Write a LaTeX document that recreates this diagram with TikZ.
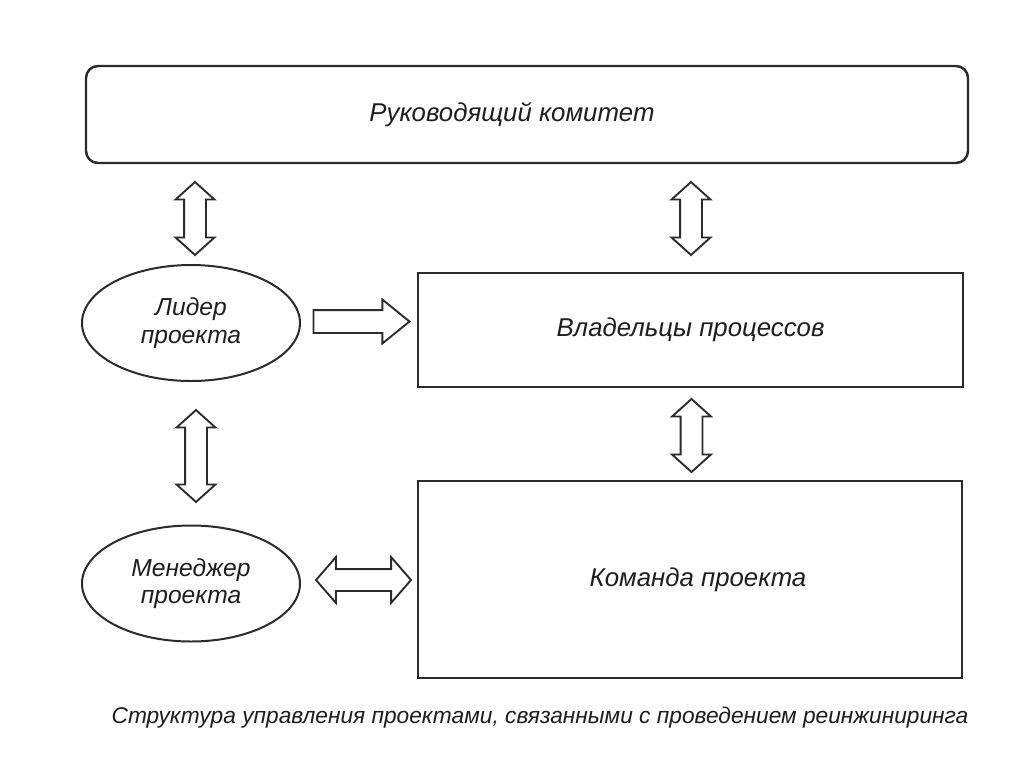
\documentclass[tikz,border=0pt]{standalone}
\usepackage{fontspec}
\setmainfont{Liberation Sans}
\usetikzlibrary{shapes.geometric,shapes.arrows}
\newlength\pu
\setlength\pu{0.3mm}
\definecolor{ink}{HTML}{2B2B2B}
\definecolor{txt}{HTML}{1E1E1E}
\tikzset{
  box/.style={draw=ink, line width=2.1pt, fill=white, inner sep=0pt,
    text=txt, font=\fontsize{22pt}{26pt}\selectfont\itshape},
  oval/.style={ellipse, draw=ink, line width=1.7pt, inner sep=0pt,
    minimum width=218\pu, minimum height=116\pu, align=center,
    text=txt, font=\fontsize{21pt}{23.5pt}\selectfont\itshape},
  vdarrow/.style={double arrow, draw=ink, line width=1.6pt, rotate=90,
    inner xsep=0pt, inner ysep=10\pu, double arrow head extend=8.5\pu,
    double arrow tip angle=96, minimum width=1pt},
  hdarrow/.style={double arrow, draw=ink, line width=1.6pt,
    inner xsep=0pt, inner ysep=10\pu, double arrow head extend=12\pu,
    double arrow tip angle=98, minimum width=1pt},
  hsarrow/.style={single arrow, draw=ink, line width=1.6pt,
    inner xsep=0pt, inner ysep=10.5\pu, single arrow head extend=10.5\pu,
    single arrow tip angle=78, minimum width=1pt},
  caption/.style={inner sep=0pt, text=txt, font=\fontsize{19.4pt}{22pt}\selectfont\itshape}
}
\begin{document}
\begin{tikzpicture}[x=\pu, y=-\pu]
\useasboundingbox[fill=white] (0,0) rectangle (1024,767);
\node[box, rounded corners=12\pu, minimum width=882\pu, minimum height=97\pu] (top) at (527,114.5) {\hspace*{-30\pu}Руководящий комитет};
\node[oval] (lider) at (191,323) {Лидер\\проекта};
\node[oval] (manager) at (191,583.5) {Менеджер\\проекта};
\node[box, minimum width=545\pu, minimum height=114\pu] (owners) at (690.5,330) {Владельцы процессов};
\node[box, minimum width=544\pu, minimum height=197\pu] (team) at (690,579.5) {Команда проекта\hspace*{-16\pu}};
\node[vdarrow, minimum height=73\pu] (a1) at (195,218.5) {};
\node[vdarrow, minimum height=73\pu] (a2) at (691,218.5) {};
\node[vdarrow, minimum height=92\pu] (a3) at (196,456) {};
\node[vdarrow, minimum height=73\pu] (a4) at (691.5,435.5) {};
\node[hsarrow, minimum height=96\pu, anchor=tip] (a5) at (411,321.5) {};
\node[hdarrow, minimum height=95\pu] (a6) at (363.5,580) {};
\node[caption] (cap) at (540,718) {Структура управления проектами, связанными с проведением реинжиниринга};
\end{tikzpicture}
\end{document}
